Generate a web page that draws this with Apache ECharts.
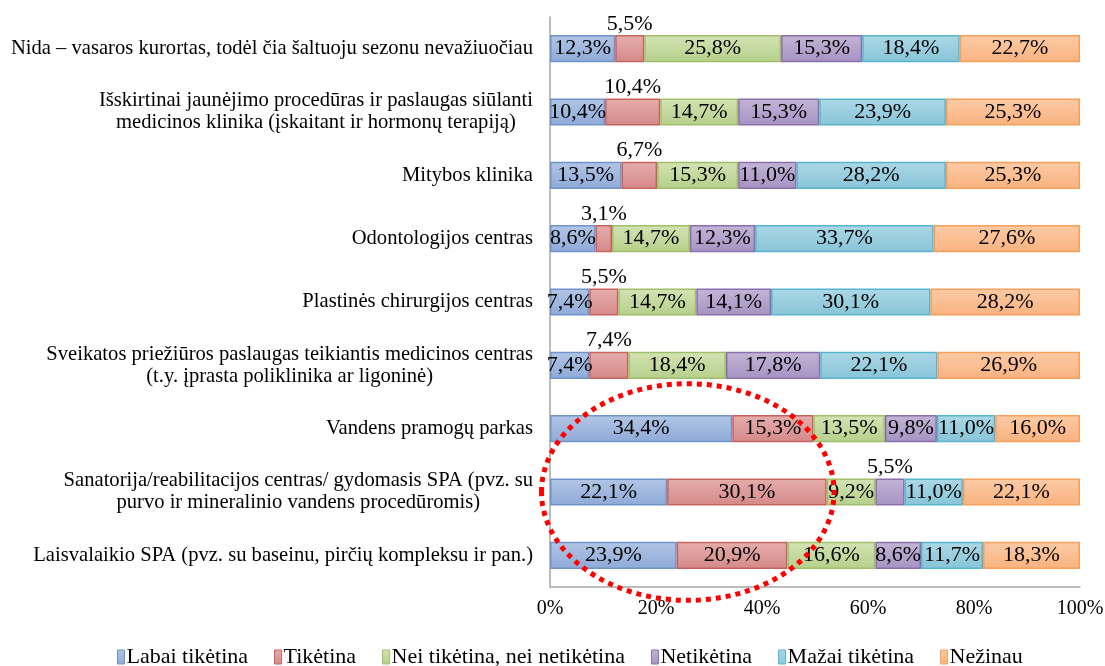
<!DOCTYPE html>
<html>
<head>
<meta charset="utf-8">
<script src="https://cdn.jsdelivr.net/npm/echarts@6/dist/echarts.min.js"></script>
<style>
  html, body { margin: 0; padding: 0; background: #fff; }
  #chart { width: 1105px; height: 666px; }
</style>
</head>
<body>
<div id="chart"></div>
<script>
// Survey answers: share of respondents (%) per destination type
const categories = [
  'Nida – vasaros kurortas, todėl čia šaltuoju sezonu nevažiuočiau',
  'Išskirtinai jaunėjimo procedūras ir paslaugas siūlanti\nmedicinos klinika (įskaitant ir hormonų terapiją)',
  'Mitybos klinika',
  'Odontologijos centras',
  'Plastinės chirurgijos centras',
  'Sveikatos priežiūros paslaugas teikiantis medicinos centras\n(t.y. įprasta poliklinika ar ligoninė)',
  'Vandens pramogų parkas',
  'Sanatorija/reabilitacijos centras/ gydomasis SPA (pvz. su\npurvo ir mineralinio vandens procedūromis)',
  'Laisvalaikio SPA (pvz. su baseinu, pirčių kompleksu ir pan.)'
];

const seriesNames = [
  'Labai tikėtina',
  'Tikėtina',
  'Nei tikėtina, nei netikėtina',
  'Netikėtina',
  'Mažai tikėtina',
  'Nežinau'
];

const labaiTiketina = [12.3, 10.4, 13.5, 8.6, 7.4, 7.4, 34.4, 22.1, 23.9];
const tiketina      = [5.5, 10.4, 6.7, 3.1, 5.5, 7.4, 15.3, 30.1, 20.9];
const neiNei        = [25.8, 14.7, 15.3, 14.7, 14.7, 18.4, 13.5, 9.2, 16.6];
const netiketina    = [15.3, 15.3, 11.0, 12.3, 14.1, 17.8, 9.8, 5.5, 8.6];
const maziTiketina  = [18.4, 23.9, 28.2, 33.7, 30.1, 22.1, 11.0, 11.0, 11.7];
const nezinau       = [22.7, 25.3, 25.3, 27.6, 28.2, 26.9, 16.0, 22.1, 18.3];

const xTicks = [0, 20, 40, 60, 80, 100];

// Segments whose value label sits above the bar: [series index, category index]
const labelsAbove = [[1, 0], [1, 1], [1, 2], [1, 3], [1, 4], [1, 5], [3, 7]];

const seriesValues = [labaiTiketina, tiketina, neiNei, netiketina, maziTiketina, nezinau];

// Fill gradients (top, bottom) and outline per series
const palette = [
  ['#b2c6e5', '#8eaad7', '#7094c9'],
  ['#e5aeac', '#d48988', '#c8625f'],
  ['#d3e4b4', '#b5cf8a', '#a0bf68'],
  ['#c3b5d6', '#a592c2', '#8a71ab'],
  ['#acd8e6', '#87c4d8', '#59b4ce'],
  ['#fccba6', '#f9b27f', '#f6a05c']
];

const FONT = '"Liberation Serif", "Times New Roman", serif';
const fmt = v => v.toFixed(1).replace('.', ',') + '%';

const series = seriesValues.map((vals, si) => ({
  name: seriesNames[si],
  type: 'bar',
  stack: 'total',
  barCategoryGap: '57%',
  itemStyle: {
    color: new echarts.graphic.LinearGradient(0, 0, 0, 1, [
      { offset: 0, color: palette[si][0] },
      { offset: 1, color: palette[si][1] }
    ]),
    borderColor: palette[si][2],
    borderWidth: 1.5
  },
  label: {
    show: true,
    position: 'inside',
    color: '#000',
    fontFamily: FONT,
    fontSize: 22,
    formatter: p => fmt(p.value)
  },
  data: vals.map((v, ci) => {
    const above = labelsAbove.some(([s, c]) => s === si && c === ci);
    return above
      ? { value: v, label: { position: 'top', distance: 0 } }
      : v;
  })
}));

const chart = echarts.init(document.getElementById('chart'), null, { renderer: 'canvas' });

chart.setOption({
  animation: false,
  backgroundColor: '#fff',
  textStyle: { fontFamily: FONT },
  grid: { left: 550, right: 25, top: 17, bottom: 79, containLabel: false, outerBoundsMode: 'none' },
  legend: {
    data: seriesNames,
    top: 641,
    left: 112,
    icon: 'rect',
    itemWidth: 7,
    itemHeight: 14,
    itemGap: 26,
    itemStyle: { borderWidth: 1 },
    textStyle: { fontFamily: FONT, fontSize: 22, color: '#000', padding: [0, 0, 0, -3] }
  },
  xAxis: {
    type: 'value',
    min: xTicks[0],
    max: xTicks[xTicks.length - 1],
    interval: xTicks[1] - xTicks[0],
    axisLine: { show: true, lineStyle: { color: '#a6a6a6', width: 1.5 } },
    axisTick: { show: false },
    splitLine: { show: false },
    axisLabel: {
      margin: 12,
      color: '#000',
      fontFamily: FONT,
      fontSize: 20,
      formatter: v => v + '%'
    }
  },
  yAxis: {
    type: 'category',
    inverse: true,
    data: categories,
    axisLine: { show: true, lineStyle: { color: '#a6a6a6', width: 1.5 } },
    axisTick: { show: false },
    axisLabel: {
      margin: 17,
      color: '#000',
      fontFamily: FONT,
      fontSize: 20.6,
      lineHeight: 22,
      formatter: v => v.split('\n').map(line => '{c|' + line + '}').join('\n'),
      rich: {
        c: { align: 'center', fontFamily: FONT, fontSize: 20.6, lineHeight: 22, color: '#000' }
      }
    }
  },
  series: series
});

// Dotted highlight around the SPA / sanatorium rows, anchored to the grid
function drawHighlight() {
  const center = chart.convertToPixel({ gridIndex: 0 }, [26, 7]);
  const edge = chart.convertToPixel({ gridIndex: 0 }, [53.6, 7]);
  const rowA = chart.convertToPixel({ gridIndex: 0 }, [0, 6]);
  const band = center[1] - rowA[1];
  chart.setOption({
    graphic: [{
      type: 'ellipse',
      z: 100,
      silent: true,
      shape: { cx: center[0], cy: center[1], rx: edge[0] - center[0], ry: band * 1.71 },
      style: {
        fill: 'none',
        stroke: '#ff0000',
        lineWidth: 5,
        lineDash: [5, 5],
        lineCap: 'butt'
      }
    }]
  });
}
drawHighlight();
</script>
</body>
</html>
